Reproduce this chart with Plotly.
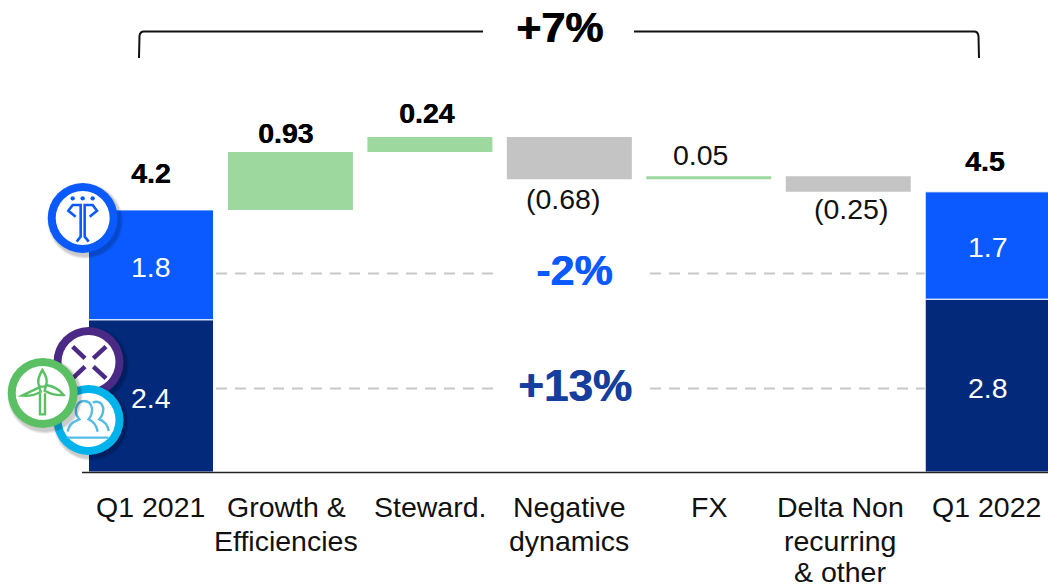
import plotly.graph_objects as go

# ---------- data ----------
categories = ["Q1 2021", "Growth & Efficiencies", "Steward.", "Negative dynamics", "FX", "Delta Non recurring & other", "Q1 2022"]
category_lines = [["Q1 2021"], ["Growth &", "Efficiencies"], ["Steward."], ["Negative", "dynamics"], ["FX"], ["Delta Non", "recurring", "& other"], ["Q1 2022"]]
total_categories = ["Q1 2021", "Q1 2022"]
lower_values = [2.44, 2.77]
upper_values = [1.76, 1.72]
lower_labels = ["2.4", "2.8"]
upper_labels = ["1.8", "1.7"]
total_labels = ["4.2", "4.5"]
up_categories = ["Growth & Efficiencies", "Steward.", "FX"]
up_values = [0.93, 0.24, 0.05]
up_bases = [4.20, 5.13, 4.69]
up_labels = ["0.93", "0.24", "0.05"]
down_categories = ["Negative dynamics", "Delta Non recurring & other"]
down_values = [0.68, 0.25]
down_bases = [4.69, 4.49]
down_labels = ["(0.68)", "(0.25)"]

# ---------- geometry helpers ----------
W, H = 1048, 587
X0, DX = 151.0, 139.45
Y0, UNIT = 472.0, 62.4
FONT = "Liberation Sans, Arial, sans-serif"
BLUE, NAVY, GREEN, GREY = "#0A5AFF", "#03297A", "#9DD89F", "#C4C4C4"


def fx(x):
    return x / W


def fy(y):
    return 1 - y / H


def poly(points, close=False):
    d = "M " + " L ".join(f"{fx(x):.5f} {fy(y):.5f}" for x, y in points)
    return d + (" Z" if close else "")


def curve(cmds):
    """cmds: list of (letter, (x, y), ...) in pixels"""
    out = []
    for c in cmds:
        if c[0] == "Z":
            out.append("Z")
        else:
            out.append(c[0] + " " + " ".join(f"{fx(x):.5f} {fy(y):.5f}" for x, y in c[1:]))
    return " ".join(out)


shapes = []


def line_shape(d, color, width, layer="above", dash=None):
    ln = dict(color=color, width=width)
    if dash:
        ln["dash"] = dash
    shapes.append(dict(type="path", xref="paper", yref="paper", path=d, line=ln, layer=layer))


def circle(cx, cy, r, fill, line=None, lw=0):
    shapes.append(dict(type="circle", xref="paper", yref="paper", x0=fx(cx - r), x1=fx(cx + r),
                       y0=fy(cy + r), y1=fy(cy - r), fillcolor=fill,
                       line=dict(color=line or fill, width=lw), layer="above"))


def badge(cx, cy, color):
    for r, a in ((38, 0.05), (37, 0.07), (36, 0.09)):
        circle(cx + 2.5, cy + 3, r, f"rgba(0,0,0,{a})")
    circle(cx, cy, 35, color)
    circle(cx, cy, 27, "white")


# baseline and dashed guides
line_shape(poly([(82, 472.5), (1048, 472.5)]), "#222222", 1.5)
for gy in (273.5, 388.5):
    line_shape(poly([(216, gy), (493, gy)]), "#C8C8C8", 2, "below", "11px,8px")
    line_shape(poly([(650, gy), (925, gy)]), "#C8C8C8", 2, "below", "11px,8px")

# top bracket
line_shape(curve([("M", (139, 58)), ("L", (139.5, 36)), ("Q", (140, 31.5), (144, 31.5)), ("L", (483, 31.5))]), "#111111", 2)
line_shape(curve([("M", (634, 31.5)), ("L", (974, 31.5)), ("Q", (978, 31.5), (978.5, 36)), ("L", (979, 58))]), "#111111", 2)

# --- blue badge
badge(82.7, 218, "#0A5AFF")
zx = lambda v: 40 + v / 3
zy = lambda v: 180 + v / 3
for mirror in (False, True):
    pts = [(107, 110), (85, 92), (98, 75), (122, 75), (122, 170), (110, 185)]
    pts = [((256 - a) if mirror else a, b) for a, b in pts]
    line_shape(poly([(zx(a), zy(b)) for a, b in pts]), "#0A5AFF", 2.6)
for a in (98, 128, 158):
    circle(zx(a), zy(55), 2.2, "#0A5AFF")

# --- purple badge
badge(88.5, 362, "#4B2A85")
ax = lambda v: v / 3
ay = lambda v: 325 + v / 3
for seg in (((218, 65), (255, 100)), ((280, 125), (318, 160)), ((318, 65), (280, 100)), ((255, 125), (218, 160))):
    line_shape(poly([(ax(a), ay(b)) for a, b in seg]), "#4B2A85", 4.5)

# --- cyan badge
badge(88.5, 420, "#00B3EA")
P = lambda a, b: (ax(a), ay(b))
CY = "#55BBE3"
line_shape(curve([("M", P(200, 338)), ("L", P(325, 338))]), CY, 2.4)
line_shape(curve([("M", P(203, 320)), ("Q", P(205, 295), P(238, 283)), ("Q", P(225, 268), P(228, 250)),
                  ("Q", P(234, 228), P(252, 228)), ("Q", P(272, 228), P(276, 250)), ("Q", P(278, 268), P(266, 283)),
                  ("Q", P(288, 292), P(293, 320))]), CY, 2.4)
line_shape(curve([("M", P(278, 232)), ("Q", P(304, 224), P(310, 250)), ("Q", P(310, 270), P(298, 283)),
                  ("Q", P(322, 292), P(326, 318))]), CY, 2.4)

# --- green badge
badge(42.7, 393, "#5BBF63")
G = "#5BBF63"
line_shape(curve([("M", P(120, 205)), ("L", P(120, 268)), ("L", P(135, 268)), ("L", P(135, 205))]), G, 2.4)
line_shape(curve([("M", P(127, 135)), ("Q", P(148, 165), P(136, 185)), ("L", P(118, 185)), ("Q", P(108, 165), P(127, 135)), ("Z",)]), G, 2.4)
line_shape(curve([("M", P(118, 187)), ("L", P(66, 212)), ("Q", P(100, 214), P(122, 200)), ("Z",)]), G, 2.4)
line_shape(curve([("M", P(138, 180)), ("Q", P(172, 185), P(191, 210)), ("Q", P(160, 212), P(134, 197)), ("Z",)]), G, 2.4)

# ---------- figure ----------
fig = go.Figure()
bw = 125 / DX
edge = dict(color="white", width=1)
fig.add_bar(x=total_categories, y=lower_values, width=bw, marker=dict(color=NAVY, line=edge), name="Lower")
fig.add_bar(x=total_categories, y=upper_values, base=lower_values, width=bw, marker=dict(color=BLUE, line=edge), name="Upper")
fig.add_bar(x=up_categories, y=up_values, base=up_bases, width=bw, marker=dict(color=GREEN, line_width=0), name="Increase")
fig.add_bar(x=down_categories, y=down_values, base=down_bases, width=bw, marker=dict(color=GREY, line_width=0), name="Decrease")

ann = []


def label(x, y, text, size=28.5, color="#111111", bold=False, xshift=0, yshift=0):
    f = dict(family=FONT, size=size, color=color)
    if bold:
        f["color"] = "#000000"
        f["shadow"] = "0.4px 0 0 #000000"
    ann.append(dict(x=x, y=y, xref="x", yref="y", text=f"<b>{text}</b>" if bold else text, showarrow=False,
                    xanchor="center", yanchor="middle", xshift=xshift, yshift=yshift, font=f))


def free(px, py, text, size, color):
    ann.append(dict(x=fx(px), y=fy(py), xref="paper", yref="paper", text=f"<b>{text}</b>", showarrow=False,
                    xanchor="center", yanchor="middle",
                    font=dict(family=FONT, size=size, color=color, shadow=f"0.8px 0 0 {color}")))


# value labels
for i, c in enumerate(total_categories):
    label(c, lower_values[i] / 2, lower_labels[i], color="white", yshift=-2)
    label(c, lower_values[i] + upper_values[i] / 2, upper_labels[i], color="white", yshift=-2)
    label(c, lower_values[i] + upper_values[i], total_labels[i], bold=True, size=28.5, xshift=-3 if i else 0, yshift=37 if i == 0 else 31)
up_shift = [-5, -3, -8]
up_y = [19, 24, 21]
for i, c in enumerate(up_categories):
    label(c, up_bases[i] + up_values[i], up_labels[i], bold=i < 2, size=28.5, xshift=up_shift[i], yshift=up_y[i])
down_shift = [-6, 3]
for i, c in enumerate(down_categories):
    label(c, down_bases[i], down_labels[i], xshift=down_shift[i], yshift=-20 if i == 0 else -17)

# category labels
cat_shift = [-1, -4, 0, 0, 0, -8, -1]
line_offsets = [0, 33.7, 64.5]
for i, lines in enumerate(category_lines):
    for j, t in enumerate(lines):
        ann.append(dict(x=categories[i], xref="x", yref="paper", y=fy(507 + line_offsets[j]), text=t, showarrow=False,
                        xanchor="center", yanchor="middle", xshift=cat_shift[i],
                        font=dict(family=FONT, size=28.5, color="#111111")))

free(559, 27, "+7%", 43, "#000000")
free(574, 270, "-2%", 43, "#0A5AFF")
free(575, 385, "+13%", 44, "#153E9E")

fig.update_layout(
    width=W, height=H, margin=dict(l=0, r=0, t=0, b=0), paper_bgcolor="white", plot_bgcolor="white",
    barmode="overlay", showlegend=False, shapes=shapes, annotations=ann,
    xaxis=dict(type="category", categoryorder="array", categoryarray=categories,
               range=[-X0 / DX, (W - X0) / DX], showticklabels=False, showgrid=False, zeroline=False, showline=False, ticks=""),
    yaxis=dict(range=[-(H - Y0) / UNIT, Y0 / UNIT], visible=False, showgrid=False, zeroline=False),
)
fig.write_html("out.html", post_script="document.body.style.margin='0';", config={"displayModeBar": False})
